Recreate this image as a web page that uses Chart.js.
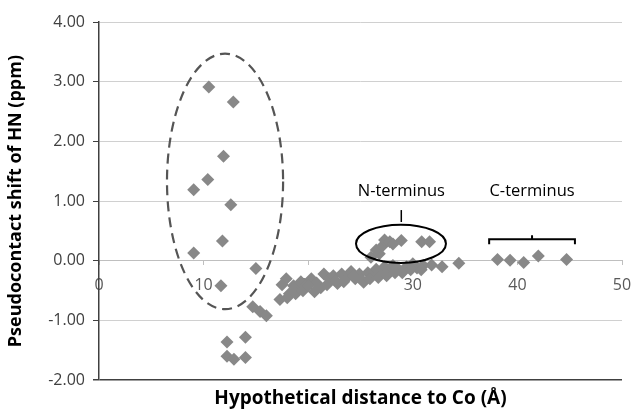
<!DOCTYPE html>
<html>
<head>
<meta charset="utf-8">
<script src="https://cdn.jsdelivr.net/npm/chart.js@4"></script>
<style>
  html, body { margin: 0; padding: 0; background: #fff; }
  #wrap { width: 631px; height: 417px; }
</style>
</head>
<body>
<div id="wrap"><canvas id="chart"></canvas></div>
<script>
// Datos (distancia en A, desplazamiento en ppm)
const distancia = [
  9.05, 10.5, 12.84, 11.9, 10.4, 9.05, 12.6, 11.8, 11.66, 15.0,
  14.7, 15.4, 16.0, 12.24, 14.0, 12.24, 12.9, 14.0,
  17.3, 17.5, 17.9, 18.2, 18.6, 19.0, 19.3, 19.8, 20.3, 20.8,
  21.2, 21.5, 22.0, 22.4, 22.8, 23.2, 23.7, 24.1, 24.5, 24.9,
  25.3, 25.7, 26.1, 26.5, 26.9, 27.3, 27.7, 28.1, 28.5, 29.0,
  29.4, 30.0, 30.4, 31.0, 31.8, 32.8, 34.4,
  18.0, 18.8, 19.5, 20.0, 20.6, 21.8, 22.6, 23.4, 24.3, 25.0,
  25.9, 26.7, 27.5, 28.3, 29.8, 30.8,
  26.0, 26.8,
  26.5, 27.1, 27.3, 27.8, 28.1, 28.9, 30.85, 31.6,
  38.1, 39.3, 40.6, 42.0, 44.7
];
const desplazamiento = [
  0.13, 2.91, 2.66, 1.75, 1.36, 1.19, 0.94, 0.33, -0.42, -0.13,
  -0.77, -0.85, -0.92, -1.36, -1.28, -1.60, -1.65, -1.62,
  -0.65, -0.40, -0.30, -0.55, -0.42, -0.48, -0.35, -0.40, -0.30, -0.37,
  -0.45, -0.22, -0.30, -0.25, -0.38, -0.22, -0.28, -0.18, -0.30, -0.22,
  -0.36, -0.20, -0.25, -0.14, -0.22, -0.10, -0.18, -0.08, -0.12, -0.20,
  -0.10, -0.05, -0.12, -0.08, -0.07, -0.10, -0.04,
  -0.62, -0.55, -0.50, -0.42, -0.52, -0.40, -0.33, -0.35, -0.25, -0.30,
  -0.30, -0.28, -0.25, -0.20, -0.15, -0.15,
  0.06, 0.12,
  0.18, 0.25, 0.35, 0.32, 0.28, 0.34, 0.32, 0.32,
  0.02, 0.01, -0.03, 0.08, 0.02
];
const xTicks = [0, 10, 20, 30, 40, 50];
const yTicks = [-2, -1, 0, 1, 2, 3, 4];

const puntos = distancia.map((x, i) => ({ x: x, y: desplazamiento[i] }));

// Anotaciones: elipses, etiquetas y corchete
const anotaciones = {
  id: 'anotaciones',
  afterDatasetsDraw(chart) {
    const { ctx, scales: { x, y } } = chart;
    ctx.save();
    // elipse discontinua
    ctx.strokeStyle = '#555';
    ctx.lineWidth = 2.2;
    ctx.setLineDash([10, 6]);
    ctx.beginPath();
    ctx.ellipse(x.getPixelForValue(12.05), y.getPixelForValue(1.33),
      x.getPixelForValue(5.55) - x.getPixelForValue(0),
      y.getPixelForValue(0) - y.getPixelForValue(2.14), 0, 0, Math.PI * 2);
    ctx.stroke();
    // elipse N-terminus
    ctx.setLineDash([]);
    ctx.strokeStyle = '#000';
    ctx.lineWidth = 2;
    ctx.beginPath();
    ctx.ellipse(x.getPixelForValue(28.87), y.getPixelForValue(0.285),
      x.getPixelForValue(4.3) - x.getPixelForValue(0),
      y.getPixelForValue(0) - y.getPixelForValue(0.32), 0, 0, Math.PI * 2);
    ctx.stroke();
    ctx.lineWidth = 1.5;
    ctx.beginPath();
    ctx.moveTo(x.getPixelForValue(28.9), y.getPixelForValue(0.85));
    ctx.lineTo(x.getPixelForValue(28.9), y.getPixelForValue(0.65));
    ctx.stroke();
    // corchete C-terminus
    ctx.lineWidth = 2;
    const yb = y.getPixelForValue(0.36);
    const x1 = x.getPixelForValue(37.3), x2 = x.getPixelForValue(45.5);
    ctx.beginPath();
    ctx.moveTo(x1, yb + 5);
    ctx.lineTo(x1, yb);
    ctx.lineTo(x2, yb);
    ctx.lineTo(x2, yb + 5);
    const xm = (x1 + x2) / 2;
    ctx.moveTo(xm, yb);
    ctx.lineTo(xm, yb - 4);
    ctx.stroke();
    // textos
    ctx.fillStyle = '#000';
    ctx.font = '16.5px "Open Sans"';
    ctx.textAlign = 'center';
    ctx.textBaseline = 'middle';
    ctx.fillText('N-terminus', x.getPixelForValue(28.9), y.getPixelForValue(1.16));
    ctx.fillText('C-terminus', xm, y.getPixelForValue(1.16));
    ctx.restore();
  }
};

new Chart(document.getElementById('chart'), {
  type: 'scatter',
  data: {
    datasets: [{
      data: puntos,
      pointStyle: 'rectRot',
      pointRadius: 6.5,
      pointHoverRadius: 6.5,
      backgroundColor: '#888888',
      borderColor: '#888888',
      borderWidth: 0
    }]
  },
  options: {
    responsive: true,
    maintainAspectRatio: false,
    animation: false,
    layout: { autoPadding: false, padding: { top: 22, right: 9, left: 0, bottom: 0 } },
    plugins: {
      legend: { display: false },
      tooltip: { enabled: false },
      title: {
        display: true,
        position: 'bottom',
        fullSize: false,
        text: 'Hypothetical distance to Co (Å)',
        color: '#000',
        font: { family: 'Open Sans', size: 19, weight: 'bold' },
        padding: { top: 7, bottom: 7 }
      }
    },
    scales: {
      x: {
        type: 'linear',
        min: 0,
        max: 50,
        position: { y: 0 },
        afterFit: (s) => { s.height = 0; s.paddingRight = 0; s.paddingLeft = 0; },
        afterBuildTicks: (s) => { s.ticks = xTicks.map(v => ({ value: v })); },
        ticks: {
          color: '#595959',
          font: { family: 'Open Sans', size: 16 },
          padding: 11
        },
        grid: { drawOnChartArea: false, drawTicks: true, tickLength: 4, tickColor: '#bfbfbf' },
        border: { color: '#bfbfbf', width: 1 }
      },
      y: {
        min: -2,
        max: 4,
        afterFit: (s) => { s.width = 99; },
        afterBuildTicks: (s) => { s.ticks = yTicks.map(v => ({ value: v })); },
        ticks: {
          color: '#404040',
          font: { family: 'Open Sans', size: 16 },
          padding: 8,
          callback: (v) => Number(v).toFixed(2)
        },
        grid: {
          color: (c) => (c.tick && c.tick.value === -2 ? '#404040' : '#d0d0d0'),
          lineWidth: (c) => (c.tick && c.tick.value === -2 ? 1.5 : 1),
          tickColor: '#404040',
          tickLength: 6
        },
        border: { color: '#404040', width: 1.5 },
        title: {
          display: true,
          text: 'Pseudocontact shift of HN (ppm)',
          color: '#000',
          font: { family: 'Open Sans', size: 18, weight: 'bold' },
          padding: { top: 5, bottom: 2 }
        }
      }
    }
  },
  plugins: [anotaciones]
});
</script>
</body>
</html>
